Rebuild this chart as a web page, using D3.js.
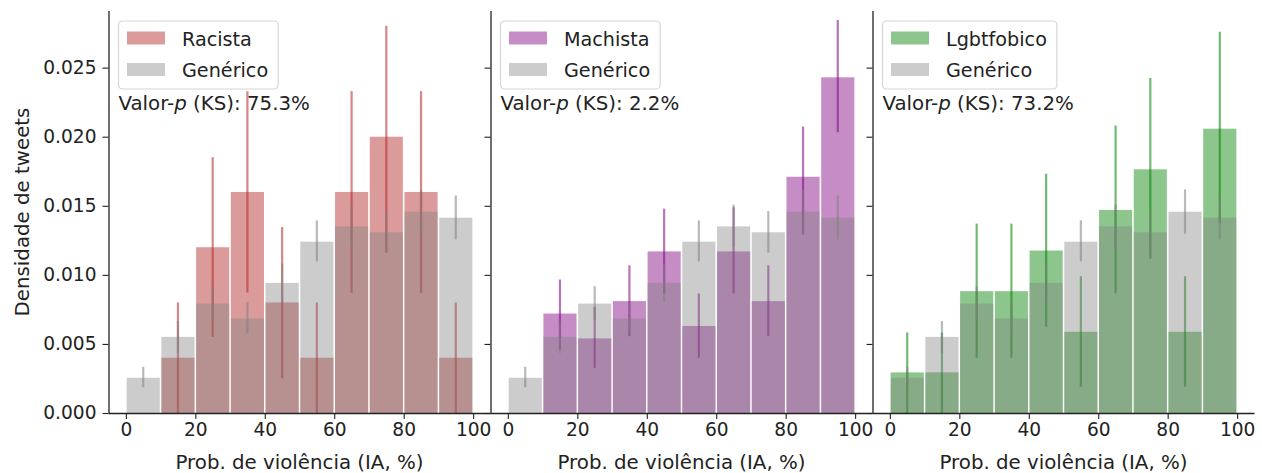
<!DOCTYPE html>
<html>
<head>
<meta charset="utf-8">
<script src="https://cdn.jsdelivr.net/npm/d3@7"></script>
<style>
  body { margin: 0; background: #fff; }
  text { font-family: "DejaVu Sans", sans-serif; fill: #222; }
</style>
</head>
<body>
<svg width="1262" height="473"></svg>
<script>
// bins of 10 points on the violence probability axis
const binStarts = [0, 10, 20, 30, 40, 50, 60, 70, 80, 90]
const xTicks = [0, 20, 40, 60, 80, 100]
const yTicks = [0, 0.005, 0.010, 0.015, 0.020, 0.025]

// generic tweets (same in all panels)
const genericValues = [0.00255, 0.00551, 0.00792, 0.00684, 0.00942, 0.0124, 0.01351, 0.01308, 0.01457, 0.01414]
const genericLow    = [0.00186, 0.00434, 0.00672, 0.00576, 0.00804, 0.01098, 0.01202, 0.01161, 0.01298, 0.01257]
const genericHigh   = [0.00335, 0.00665, 0.00918, 0.00804, 0.01082, 0.01395, 0.01508, 0.01462, 0.01618, 0.01575]

const racistaValues = [0, 0.004, 0.012, 0.016, 0.008, 0.004, 0.016, 0.020, 0.016, 0.004]
const racistaLow    = [0, 0, 0.00551, 0.00872, 0.00251, 0, 0.0087, 0.01161, 0.0087, 0]
const racistaHigh   = [0, 0.008, 0.01852, 0.0233, 0.01346, 0.008, 0.0233, 0.02803, 0.0233, 0.008]

const machistaValues = [0, 0.0072, 0.0054, 0.0081, 0.0117, 0.0063, 0.0117, 0.0081, 0.0171, 0.0243]
const machistaLow    = [0, 0.0046, 0.00327, 0.00556, 0.00865, 0.0040, 0.00865, 0.00556, 0.01291, 0.02033]
const machistaHigh   = [0, 0.00966, 0.00768, 0.01069, 0.01479, 0.00865, 0.0149, 0.01069, 0.02074, 0.02845]

const lgbtValues = [0.00294, 0.00294, 0.00882, 0.00882, 0.01176, 0.00588, 0.0147, 0.01764, 0.00588, 0.02058]
const lgbtLow    = [0, 0, 0.0040, 0.0040, 0.00624, 0.0019, 0.00865, 0.01118, 0.0019, 0.01375]
const lgbtHigh   = [0.00583, 0.00583, 0.01371, 0.01371, 0.01732, 0.0099, 0.02081, 0.02426, 0.0099, 0.0276]

const panelNames = ['Racista', 'Machista', 'Lgbtfobico']
const pValues = ['75.3%', '2.2%', '73.2%']

const svg = d3.select('svg')

const panelW = 382
const yTop = 11, yBottom = 413
const firstLeft = 108.5
const tickFont = 18.6, labelFont = 19.8, legendFont = 19.2

const panels = [
  {name: panelNames[0], color: '#b22222', values: racistaValues, low: racistaLow, high: racistaHigh, p: pValues[0]},
  {name: panelNames[1], color: '#800080', values: machistaValues, low: machistaLow, high: machistaHigh, p: pValues[1]},
  {name: panelNames[2], color: '#008000', values: lgbtValues, low: lgbtLow, high: lgbtHigh, p: pValues[2]}
]
const gray = '#808080'

const yScale = d3.scaleLinear().domain([0, 0.0291]).range([yBottom, yTop])

const drawSeries = (g, xScale, values, low, high, color, opacity) => {
  g.append('g').selectAll('rect').data(binStarts)
    .enter().append('rect')
      .attr('x', d => xScale(d) + 0.8)
      .attr('width', d => xScale(d + 10) - xScale(d) - 1.6)
      .attr('y', (d, i) => yScale(values[i]))
      .attr('height', (d, i) => yScale(0) - yScale(values[i]))
      .attr('fill', color)
      .attr('fill-opacity', opacity)

  g.append('g').selectAll('line').data(binStarts)
    .enter().append('line')
      .attr('x1', d => xScale(d + 5))
      .attr('x2', d => xScale(d + 5))
      .attr('y1', (d, i) => yScale(low[i]))
      .attr('y2', (d, i) => yScale(high[i]))
      .attr('stroke', color)
      .attr('stroke-width', 2.2)
      .attr('stroke-opacity', (d, i) => high[i] > 0 ? 0.55 : 0)
}

panels.forEach((p, k) => {
  const left = firstLeft + k * panelW
  const xScale = d3.scaleLinear().domain([-5, 105]).range([left, left + panelW])
  const g = svg.append('g')

  drawSeries(g, xScale, p.values, p.low, p.high, p.color, 0.45)
  drawSeries(g, xScale, genericValues, genericLow, genericHigh, gray, 0.4)

  // axes
  const xAxis = d3.axisBottom(xScale).tickValues(xTicks).tickSize(6).tickPadding(4)
  const xAxisG = g.append('g').attr('transform', `translate(0, ${yBottom})`).call(xAxis)
  xAxisG.select('.domain').attr('d', `M${left},0.5H${left + panelW}`).attr('stroke', '#222').attr('stroke-width', 1.3)
  xAxisG.selectAll('.tick line').attr('stroke', '#222').attr('stroke-width', 1.1)
  xAxisG.selectAll('.tick text').attr('font-size', tickFont).attr('font-family', '"DejaVu Sans", sans-serif').attr('fill', '#222')

  const yAxis = d3.axisLeft(yScale).tickValues(yTicks).tickSize(6).tickPadding(6)
    .tickFormat(k === 0 ? d3.format('.3f') : () => '')
  const yAxisG = g.append('g').attr('transform', `translate(${left}, 0)`).call(yAxis)
  yAxisG.select('.domain').attr('d', `M0.5,${yBottom}V${yTop}`).attr('stroke', '#222').attr('stroke-width', 1.3)
  yAxisG.selectAll('.tick line').attr('stroke', '#222').attr('stroke-width', 1.1)
  yAxisG.selectAll('.tick text').attr('font-size', tickFont).attr('font-family', '"DejaVu Sans", sans-serif').attr('fill', '#222')

  g.append('text')
    .attr('x', xScale(50)).attr('y', 469)
    .attr('text-anchor', 'middle').attr('font-size', labelFont)
    .text('Prob. de violência (IA, %)')

  // legend
  const lg = g.append('g').attr('transform', `translate(${left + 10}, 21)`)
  const box = lg.append('rect')
    .attr('x', 0).attr('y', 0).attr('height', 68).attr('rx', 4)
    .attr('fill', '#fff').attr('fill-opacity', 0.8)
    .attr('stroke', '#d6d6d6').attr('stroke-width', 1.2)
  const items = [{label: p.name, color: p.color, op: 0.45}, {label: 'Genérico', color: gray, op: 0.4}]
  let maxW = 0
  items.forEach((it, i) => {
    lg.append('rect')
      .attr('x', 8.5).attr('y', 10.5 + i * 31.5).attr('width', 38).attr('height', 13)
      .attr('fill', it.color).attr('fill-opacity', it.op)
    const t = lg.append('text')
      .attr('x', 63.5).attr('y', 24.5 + i * 31.5)
      .attr('font-size', legendFont).text(it.label)
    maxW = Math.max(maxW, t.node().getComputedTextLength())
  })
  box.attr('width', 63.5 + maxW + 10)

  const pt = g.append('text').attr('x', left + 10).attr('y', 109.5).attr('font-size', labelFont)
  pt.append('tspan').text('Valor-')
  pt.append('tspan').attr('font-style', 'italic').text('p')
  pt.append('tspan').text(' (KS): ' + p.p)
})

svg.append('text')
  .attr('transform', `translate(29, ${(yTop + yBottom) / 2}) rotate(-90)`)
  .attr('text-anchor', 'middle').attr('font-size', labelFont)
  .text('Densidade de tweets')
</script>
</body>
</html>
